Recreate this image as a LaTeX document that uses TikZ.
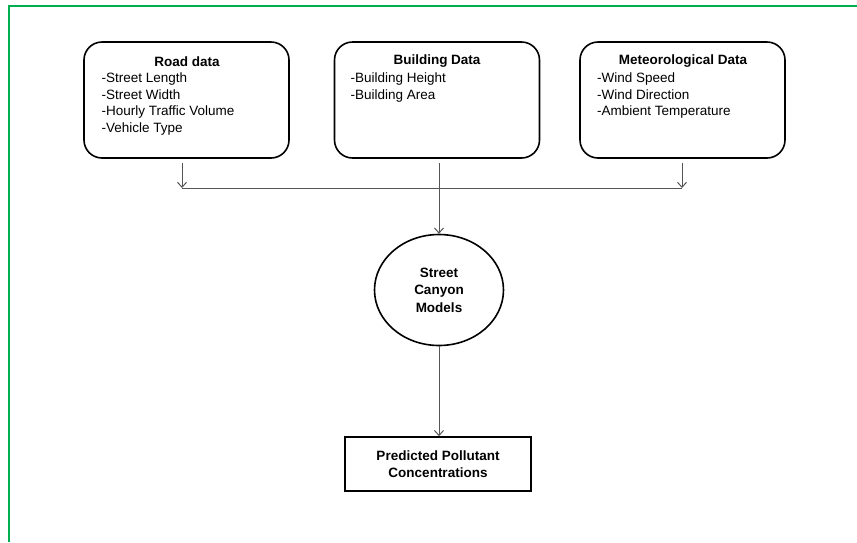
\documentclass[tikz,border=0pt]{standalone}
\usepackage{fontspec}
\setmainfont{Liberation Sans}
\usetikzlibrary{arrows.meta,shapes.geometric}
\definecolor{framegreen}{RGB}{0,176,80}
\definecolor{linkgray}{RGB}{85,85,85}
\begin{document}
\begin{tikzpicture}[x=1pt,y=-1pt,
  databox/.style={draw=black,line width=1.6pt,rounded corners=18pt,
    minimum width=205pt,minimum height=116pt,inner sep=0pt},
  title/.style={font=\fontsize{13.5}{16.7}\selectfont\bfseries,inner sep=0pt},
  items/.style={font=\fontsize{13.5}{16.7}\selectfont,align=left,inner sep=0pt,anchor=north west},
  model/.style={draw=black,line width=1.6pt,ellipse,minimum width=129pt,minimum height=111pt,
    inner sep=0pt,align=center,font=\fontsize{13.5}{17.5}\selectfont\bfseries},
  result/.style={draw=black,line width=1.6pt,minimum width=186pt,minimum height=54pt,
    inner sep=0pt,align=center,font=\fontsize{13.5}{17}\selectfont\bfseries},
  link/.style={draw=linkgray,line width=1pt},
  arr/.style={link,-{Straight Barb[length=5pt,width=9pt]}}]
\useasboundingbox (0,0) rectangle (857,542);
\fill[white] (0,0) rectangle (857,542);
% frame
\draw[framegreen,line width=2pt] (9,542) -- (9,5.5) -- (857,5.5);

% input boxes
\node[databox] (road) at (186.5,100) {};
\node[databox] (bld) at (437,100) {};
\node[databox] (met) at (682.5,100) {};

\node[title] (roadt) at (187,61.5) {Road data};
\node[items] (roadi) at (101.5,72.5) {-Street Length\\-Street Width\\-Hourly Traffic Volume\\-Vehicle Type};
\node[title] (bldt) at (437,61.5) {Building Data};
\node[items] (bldi) at (350.5,72.5) {-Building Height\\-Building Area};
\node[title] (mett) at (683,61.5) {Meteorological Data};
\node[items] (meti) at (597,72.5) {-Wind Speed\\-Wind Direction\\-Ambient Temperature};

% model and result
\node[model] (scm) at (439,290) {Street\\Canyon\\Models};
\node[result] (pred) at (438,464) {Predicted Pollutant\\Concentrations};

% collector line
\coordinate (jr) at (182,188);
\coordinate (jm) at (439,188);
\coordinate (jl) at (682,188);
\draw[arr] ([yshift=-4pt]road.south -| jr) -- (jr);
\draw[arr] ([yshift=-4pt]met.south -| jl) -- (jl);
\draw[link] (jr) -- (jl);
\draw[arr] ([yshift=-4pt]bld.south -| jm) -- (scm.north);
\draw[arr] (scm.south) -- (pred.north -| scm.south);
\end{tikzpicture}
\end{document}
